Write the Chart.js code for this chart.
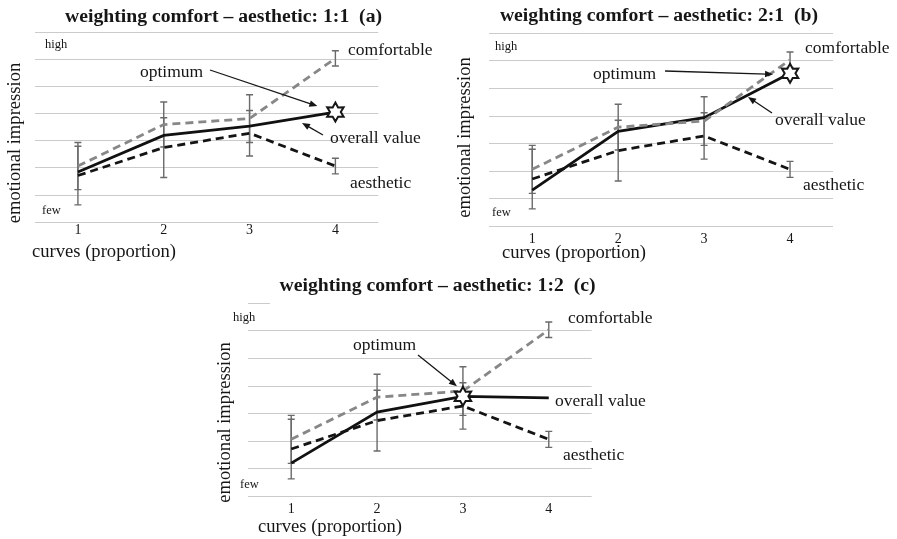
<!DOCTYPE html>
<html>
<head>
<meta charset="utf-8">
<script src="https://cdn.jsdelivr.net/npm/chart.js@4.4.0/dist/chart.umd.min.js"></script>
<style>
    body { margin: 0; background: #fff; width: 897px; height: 539px; position: relative; overflow: hidden; }
    canvas { position: absolute; }
</style>
</head>
<body>
<canvas id="chartA" width="445" height="270" style="left:0;top:0"></canvas>
<canvas id="chartB" width="447" height="270" style="left:450px;top:0"></canvas>
<canvas id="chartC" width="500" height="269" style="left:200px;top:270px"></canvas>
<script>
// Data (y: 0 = few ... 7 = high)
const categories = [1, 2, 3, 4];
const comfortable = [2.07, 3.6, 3.82, 6.04];
const comfortableErr = [0.87, 0.83, 0.88, 0.28];
const aesthetic = [1.72, 2.75, 3.28, 2.07];
const aestheticErr = [1.08, 1.1, 0.84, 0.29];
const overallA = [1.85, 3.2, 3.54, 4.06];
const overallB = [1.32, 3.45, 3.94, 5.55];
const overallC = [1.21, 3.06, 3.63, 3.57];
const optimumA = 3, optimumB = 3, optimumC = 2;
const yMin = 0, yMax = 7;

const SERIF = '"Liberation Serif", "DejaVu Serif", serif';
const INK = '#161616';

function points(values) {
    return categories.map((c, i) => ({ x: c, y: values[i] }));
}

function drawArrow(ctx, x1, y1, x2, y2) {
    const a = Math.atan2(y2 - y1, x2 - x1);
    const len = 8, w = 3.3;
    ctx.save();
    ctx.strokeStyle = INK;
    ctx.fillStyle = INK;
    ctx.lineWidth = 1.3;
    ctx.beginPath();
    ctx.moveTo(x1, y1);
    ctx.lineTo(x2 - Math.cos(a) * len * 0.8, y2 - Math.sin(a) * len * 0.8);
    ctx.stroke();
    ctx.beginPath();
    ctx.moveTo(x2, y2);
    ctx.lineTo(x2 - Math.cos(a) * len - Math.sin(a) * w, y2 - Math.sin(a) * len + Math.cos(a) * w);
    ctx.lineTo(x2 - Math.cos(a) * len + Math.sin(a) * w, y2 - Math.sin(a) * len - Math.cos(a) * w);
    ctx.closePath();
    ctx.fill();
    ctx.restore();
}

function drawStar(ctx, cx, cy) {
    const R = 9.5, r = 5.4;
    ctx.save();
    ctx.beginPath();
    for (let i = 0; i < 12; i++) {
        const ang = -Math.PI / 2 + i * Math.PI / 6;
        const rad = i % 2 === 0 ? R : r;
        const px = cx + Math.cos(ang) * rad, py = cy + Math.sin(ang) * rad;
        if (i === 0) ctx.moveTo(px, py); else ctx.lineTo(px, py);
    }
    ctx.closePath();
    ctx.fillStyle = '#fff';
    ctx.fill();
    ctx.strokeStyle = INK;
    ctx.lineWidth = 2;
    ctx.stroke();
    ctx.restore();
}

// error bars for comfortable and aesthetic
const errorBars = {
    id: 'errorBars',
    beforeDatasetsDraw(chart) {
        const { ctx, scales: { x, y } } = chart;
        ctx.save();
        ctx.strokeStyle = '#6a6a6a';
        ctx.lineWidth = 1.4;
        [[comfortable, comfortableErr], [aesthetic, aestheticErr]].forEach(([vals, errs]) => {
            categories.forEach((c, i) => {
                const px = x.getPixelForValue(c);
                const top = y.getPixelForValue(vals[i] + errs[i]);
                const bot = y.getPixelForValue(vals[i] - errs[i]);
                ctx.beginPath();
                ctx.moveTo(px, top); ctx.lineTo(px, bot);
                ctx.moveTo(px - 3.5, top); ctx.lineTo(px + 3.5, top);
                ctx.moveTo(px - 3.5, bot); ctx.lineTo(px + 3.5, bot);
                ctx.stroke();
            });
        });
        ctx.restore();
    }
};

// optimum star, texts and arrows
const annotations = {
    id: 'annotations',
    afterDraw(chart, args, opts) {
        const { ctx, scales: { x, y } } = chart;
        const idx = opts.optimum;
        const sx = x.getPixelForValue(categories[idx]);
        const sy = y.getPixelForValue(opts.overall[idx]);
        drawStar(ctx, sx, sy);

        ctx.save();
        if (opts.titleBg) {
            ctx.fillStyle = '#fff';
            ctx.fillRect(opts.titleBg[0], opts.titleBg[1], opts.titleBg[2], opts.titleBg[3]);
        }
        ctx.fillStyle = INK;
        ctx.textBaseline = 'middle';
        ctx.textAlign = 'center';
        ctx.font = 'bold 19.7px ' + SERIF;
        ctx.fillText(opts.title, opts.titlePos[0], opts.titlePos[1]);

        ctx.textAlign = 'left';
        ctx.font = '12.5px ' + SERIF;
        ctx.fillText('high', opts.high[0], opts.high[1]);
        ctx.fillText('few', opts.few[0], opts.few[1]);

        ctx.font = '18.6px ' + SERIF;
        ctx.fillText('curves (proportion)', opts.xTitle[0], opts.xTitle[1]);
        ctx.font = '17.5px ' + SERIF;
        ctx.fillText('comfortable', opts.comf[0], opts.comf[1]);
        ctx.fillText('optimum', opts.opt[0], opts.opt[1]);
        ctx.fillText('overall value', opts.over[0], opts.over[1]);
        ctx.fillText('aesthetic', opts.aest[0], opts.aest[1]);

        ctx.save();
        ctx.translate(opts.yTitle[0], opts.yTitle[1]);
        ctx.rotate(-Math.PI / 2);
        ctx.textAlign = 'center';
        ctx.font = '18.6px ' + SERIF;
        ctx.fillText('emotional impression', 0, 0);
        ctx.restore();
        ctx.restore();

        const oa = opts.optArrow;
        drawArrow(ctx, oa[0], oa[1], sx + oa[2], sy + oa[3]);
        const va = opts.overArrow;
        if (va) drawArrow(ctx, va[0], va[1], va[2], va[3]);
    }
};

function makeChart(id, overall, panel) {
    return new Chart(document.getElementById(id), {
        type: 'line',
        data: {
            datasets: [
                {
                    label: 'comfortable',
                    data: points(comfortable),
                    borderColor: '#878787',
                    borderWidth: 2.8,
                    borderDash: [8, 5],
                    pointRadius: 0,
                    tension: 0
                },
                {
                    label: 'aesthetic',
                    data: points(aesthetic),
                    borderColor: '#141414',
                    borderWidth: 2.8,
                    borderDash: [8, 5],
                    pointRadius: 0,
                    tension: 0
                },
                {
                    label: 'overall value',
                    data: points(overall),
                    borderColor: '#111',
                    borderWidth: 2.8,
                    pointRadius: 0,
                    tension: 0
                }
            ]
        },
        options: {
            responsive: false,
            animation: false,
            layout: { padding: panel.padding },
            plugins: {
                legend: { display: false },
                tooltip: { enabled: false },
                annotations: Object.assign({ overall: overall }, panel.notes)
            },
            scales: {
                x: {
                    type: 'linear',
                    min: 0.5,
                    max: 4.5,
                    afterBuildTicks: scale => { scale.ticks = categories.map(v => ({ value: v })); },
                    ticks: {
                        padding: panel.tickPad,
                        color: INK,
                        font: { family: SERIF, size: 14 },
                        maxRotation: 0
                    },
                    grid: { display: false, drawTicks: false },
                    border: { display: false }
                },
                y: {
                    min: yMin,
                    max: yMax,
                    ticks: { display: false, stepSize: 1 },
                    grid: { color: '#cbcbcb', lineWidth: 1, drawTicks: false },
                    border: { display: false }
                }
            }
        },
        plugins: [errorBars, annotations]
    });
}

makeChart('chartA', overallA, {
    padding: { left: 35, right: 66.7, top: 32.3, bottom: 31 },
    tickPad: 0,
    notes: {
        optimum: optimumA,
        title: 'weighting comfort \u2013 aesthetic: 1:1  (a)',
        titlePos: [223.5, 17],
        high: [45, 45], few: [42, 211],
        yTitle: [15, 143], xTitle: [32, 252],
        comf: [348, 50], opt: [140, 72], over: [330, 138], aest: [350, 183],
        optArrow: [210, 70, -18, -6],
        overArrow: [323, 135, 302, 123]
    }
});

makeChart('chartB', overallB, {
    padding: { left: 39.3, right: 64, top: 33.3, bottom: 18.7 },
    tickPad: 4,
    notes: {
        optimum: optimumB,
        title: 'weighting comfort \u2013 aesthetic: 2:1  (b)',
        titlePos: [209, 15.5],
        high: [45, 47], few: [42, 213],
        yTitle: [15, 137.5], xTitle: [52, 253],
        comf: [355, 48], opt: [143, 74], over: [325, 120], aest: [353, 185],
        optArrow: [215, 71, -17, 1],
        overArrow: [322, 113, 298, 97]
    }
});

makeChart('chartC', overallC, {
    padding: { left: 48.3, right: 108.3, top: 33.3, bottom: 17.7 },
    tickPad: 4,
    notes: {
        optimum: optimumC,
        title: 'weighting comfort \u2013 aesthetic: 1:2  (c)',
        titlePos: [237.5, 15.7],
        titleBg: [70, 0, 330, 36],
        high: [33, 48], few: [40, 215],
        yTitle: [25, 152.5], xTitle: [58, 257],
        comf: [368, 48], opt: [153, 75], over: [355, 131], aest: [363, 185],
        optArrow: [218, 85, -6, -10],
        overArrow: null
    }
});
</script>
</body>
</html>
